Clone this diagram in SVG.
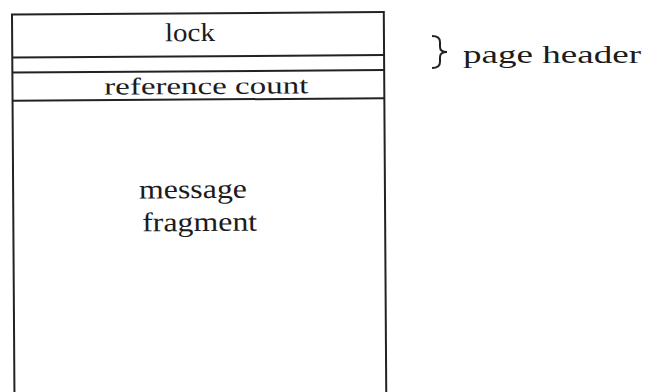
<svg xmlns="http://www.w3.org/2000/svg" width="647" height="392" viewBox="0 0 647 392">
  <style>
    .rule { stroke: #222; stroke-width: 2; fill: none; }
    .lbl { font-family: "Liberation Serif", "DejaVu Serif", serif; fill: #1c1c1c; }
  </style>
  <rect width="647" height="392" fill="#ffffff"/>

  <!-- message page: a slightly skewed frame as printed -->
  <g transform="rotate(-0.37 198 200)">
    <g id="page">
      <rect class="rule" x="13.2" y="13.3" width="371.8" height="420"/>
    </g>
    <g id="lock-field">
      <line class="rule" x1="13.2" y1="56.3" x2="385" y2="56.3"/>
      <text class="lbl" x="166" y="41" font-size="26" textLength="50" lengthAdjust="spacingAndGlyphs">lock</text>
    </g>
    <g id="refcount-field">
      <line class="rule" x1="13.2" y1="71.3" x2="385" y2="71.3"/>
      <line class="rule" x1="13.2" y1="99.5" x2="385" y2="99.5"/>
      <text class="lbl" x="105" y="94" font-size="24" textLength="204" lengthAdjust="spacingAndGlyphs">reference count</text>
    </g>
    <g id="fragment-field">
      <text class="lbl" x="139" y="198" font-size="27" textLength="108" lengthAdjust="spacingAndGlyphs">message</text>
      <text class="lbl" x="142" y="231" font-size="27" textLength="115" lengthAdjust="spacingAndGlyphs">fragment</text>
    </g>
  </g>

  <!-- brace grouping the header fields -->
  <g id="connectors">
    <path class="rule" stroke-width="2.6" d="M432,36 C438,36 440,38 440,42 L440,47 C440,50 442,52 447,52 C442,52 440,54 440,57 L440,62 C440,66 438,68 432,68"/>
  </g>

  <g id="header-label">
    <text class="lbl" x="463" y="63" font-size="26" textLength="178" lengthAdjust="spacingAndGlyphs">page header</text>
  </g>
</svg>
